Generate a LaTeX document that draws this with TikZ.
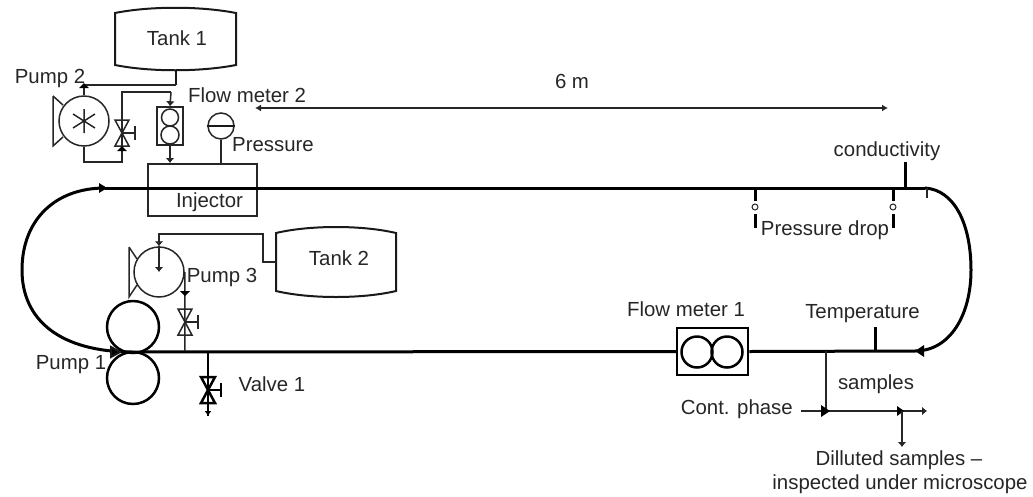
\documentclass[tikz,border=0pt]{standalone}
\usepackage{fontspec}
\setmainfont{Liberation Sans}
\usetikzlibrary{arrows.meta,calc}
\tikzset{
 lbl/.style={inner sep=0pt,font=\fontsize{20.4}{24}\selectfont,text=black!85},
 thin line/.style={line width=1.5pt,draw=black!85},
 mid line/.style={line width=2pt,draw=black!90},
 tick line/.style={line width=3pt,draw=black},
 main line/.style={line width=3pt,draw=black},
 smalltip/.style={-{Latex[length=5pt,width=9pt]}},
 valve/.pic={
  \draw[#1] (-7,-13) -- (7,-13) -- (-7,13) -- (7,13) -- cycle;
  \draw[#1] (0,0) -- (13,0) (13,-7) -- (13,7);
 },
}
\begin{document}
\begin{tikzpicture}[x=1pt,y=-1pt]
\useasboundingbox (0,0) rectangle (1033,496);
% coordinates
\coordinate (LT) at (105,188);
\coordinate (RT) at (925,188);
\coordinate (RB) at (915,351);
\coordinate (P1mid) at (133,352);
\coordinate (J3) at (185,351);
\coordinate (J4) at (208,351);
\coordinate (Jsam) at (826,351);
\coordinate (Cout) at (208,416);
% main loop
\draw[main line] (RT) .. controls (955,190) and (971,225) .. (971,270) .. controls (971,315) and (950,351) .. (RB);
\draw[main line] (P1mid) .. controls (60,352) and (22,320) .. (22,270) .. controls (22,220) and (55,188) .. (LT);
% injector
\node[draw=black!85,line width=1.5pt,minimum width=109pt,minimum height=52pt,inner sep=0pt,anchor=north west] (inj) at (147,163) {};
\draw[main line] (LT) -- (RT);
\fill (107,188) -- (99,183) -- (99,193) -- cycle;
\node[lbl] (injt) at (209.5,202) {Injector};
% flow meter 1
\node[draw=black,line width=2.5pt,minimum width=71pt,minimum height=47pt,inner sep=0pt] (fm1) at (712.5,351.5) {};
\node[draw=black,line width=2.5pt,circle,minimum size=31pt,inner sep=0pt] (fm1a) at (697,352) {};
\node[draw=black,line width=2.5pt,circle,minimum size=31pt,inner sep=0pt] (fm1b) at (727,352) {};
\draw[main line] (P1mid) -- (fm1.west);
\draw[main line] (fm1.east) -- (RB);
\fill (915,351) -- (924,345) -- (924,357) -- cycle;
% pump 1
\node[draw=black,line width=2.5pt,circle,minimum size=52pt,inner sep=0pt] (p1a) at (133,327) {};
\node[draw=black,line width=2.5pt,circle,minimum size=52pt,inner sep=0pt] (p1b) at (133,378) {};
\draw[mid line,fill=black] (120,352) -- (111,347) -- (111,357) -- cycle;
% tank 1
\node[lbl] (t1) at (177,38) {Tank 1};
\draw[mid line] (115,13) .. controls (150,6) and (200,6) .. (236,13) -- (236,65) .. controls (200,72) and (150,72) .. (115,65) -- cycle;
\coordinate (t1b) at (176,70);
\coordinate (t1j) at (176,85);
% pump 2
\node[draw=black!85,line width=1.5pt,circle,minimum size=50pt,inner sep=0pt] (p2) at (84,121) {};
\draw[thin line] (53,96) -- (53,146) -- (63,137) (53,96) -- (63,105);
\draw[thin line] (84,109) -- (84,133) (73,114) -- (95,128) (73,128) -- (95,114);
\draw[mid line] (t1b) -- (t1j);
\draw[thin line] (t1j) -- (84,85);
\draw[thin line] (p2.north) -- (84,85);
\fill (84,83) -- (79,88) -- (89,88) -- cycle;
% valve on pump 2 bypass
\draw[thin line] (p2.south) -- (84,162) -- (122,162) -- (122,92) -- (171,92) coordinate (fv);
\pic at (122,133) {valve={thin line}};
\fill (122,146) -- (117,151) -- (127,151) -- cycle;
% flow meter 2
\node[draw=black!85,line width=1.5pt,minimum width=26pt,minimum height=38pt,inner sep=0pt] (fm2) at (170,126) {};
\node[draw=black!85,line width=1.5pt,circle,minimum size=17pt,inner sep=0pt] (fm2a) at (170,117.5) {};
\node[draw=black!85,line width=1.5pt,circle,minimum size=18pt,inner sep=0pt] (fm2b) at (170,135) {};
\draw[thin line,smalltip] (fv) -- (fm2.north);
\draw[thin line,smalltip] (fm2.south) -- (fm2.south |- inj.north);
% pressure
\node[draw=black!85,line width=1.5pt,circle,minimum size=26pt,inner sep=0pt] (pg) at (221,126) {};
\draw[mid line] (pg.west) -- (pg.east);
\draw[thin line] (pg.south) -- (pg.south |- inj.north);
% pump 3
\node[draw=black!85,line width=1.5pt,circle,minimum size=50pt,inner sep=0pt] (p3) at (159,272) {};
\draw[thin line] (129,247) -- (129,297) -- (137,285) (129,247) -- (137,259);
\node[lbl] (t2) at (339,258) {Tank 2};
\draw[mid line] (276,233) .. controls (310,225) and (362,225) .. (396,233) -- (396,291) .. controls (362,299) and (310,299) .. (276,291) -- cycle;
\coordinate (c3a) at (276,262);
\draw[thin line,smalltip] (c3a) -- (263,262) -- (263,234) -- (159,234) -- (p3.north);
\draw[thin line,smalltip] (p3.north) -- (p3.center);
% pump 3 outlet
\draw[thin line] (p3.east) -- (J3);
\fill (185,296) -- (180,291) -- (190,291) -- cycle;
\pic at (185,322) {valve={thin line}};
% valve 1
\draw[line width=2.5pt,draw=black] (J4) -- (Cout);
\pic at (208,390) {valve={line width=2.5pt,draw=black}};
\draw[line width=2pt,-{Latex[length=5pt,width=7pt]}] (208,410) -- (Cout);
% 6 m dimension
\coordinate (d1) at (255,108);
\coordinate (d2) at (888,108);
\draw[thin line,{Latex[length=6pt,width=7pt]}-{Latex[length=6pt,width=7pt]}] (d1) -- (d2);
\node[lbl] (sixm) at (572,81) {6 m};
% conductivity
\coordinate (cd) at (905,188);
\coordinate (cdt) at (905,162);
\draw[tick line] (cd) -- (cdt);
\draw[thin line] (927,188) -- (927,198);
\node[lbl] (cdl) at (887,151) {conductivity};
% pressure drop
\coordinate (pa) at (755,188);
\coordinate (pb) at (893,188);
\draw[tick line] (pa) -- (755,201) (755,214) -- (755,228);
\draw[tick line] (pb) -- (893,201) (893,214) -- (893,228);
\node[draw=black!85,line width=1pt,circle,minimum size=6pt,inner sep=0pt] (pac) at (755,207) {};
\node[draw=black!85,line width=1pt,circle,minimum size=6pt,inner sep=0pt] (pbc) at (893,207) {};
\node[lbl] (pdl) at (825,230) {Pressure drop};
% temperature
\draw[tick line] (875,351) -- (875,327);
\node[lbl] (tl) at (862.5,314) {Temperature};
% samples
\coordinate (sj) at (826,411);
\coordinate (cp) at (801,411);
\coordinate (se) at (927,411);
\coordinate (dj) at (902,411);
\coordinate (de) at (902,447);
\draw[thin line] (Jsam) -- (sj);
\draw[thin line,smalltip] (cp) -- (se);
\fill (830,411) -- (821,405) -- (821,417) -- cycle;
\fill (904,411) -- (897,406) -- (897,416) -- cycle;
\draw[thin line,smalltip] (dj) -- (de);
% labels
\node[lbl] (sl) at (876,384) {samples};
\node[lbl,anchor=east] (cpl) at (793,409) {Cont. phase};
\node[lbl] (dl) at (899,460) {Dilluted samples --};
\node[lbl] (il) at (900,484) {inspected under microscope};
\node[lbl] (fm1t) at (686,309) {Flow meter 1};
\node[lbl] (fm2l) at (247,95) {Flow meter 2};
\node[lbl] (prl) at (273,145) {Pressure};
\node[lbl] (p2l) at (50,78) {Pump 2};
\node[lbl] (p3l) at (222,277) {Pump 3};
\node[lbl] (p1l) at (71,365) {Pump 1};
\node[lbl] (v1l) at (272,384) {Valve 1};
\end{tikzpicture}
\end{document}
